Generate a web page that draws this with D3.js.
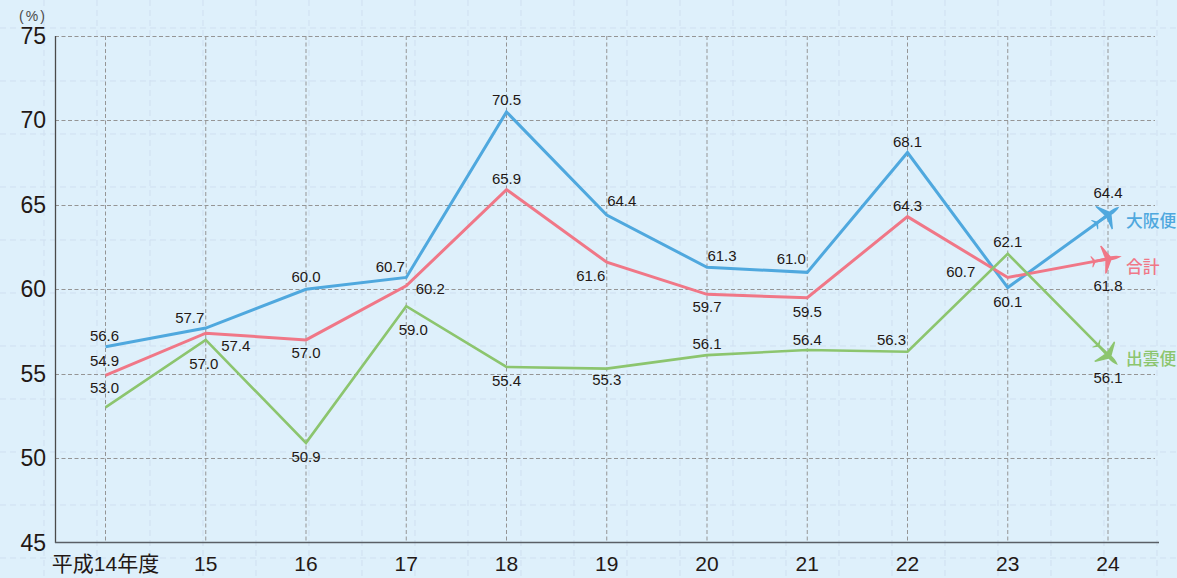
<!DOCTYPE html>
<html>
<head>
<meta charset="utf-8">
<script src="https://cdn.jsdelivr.net/npm/d3@7"></script>
<style>
  html, body { margin: 0; padding: 0; background: #def0fb; overflow: hidden; }
  svg { display: block; }
  text { font-family: "Liberation Sans", "Noto Sans CJK JP", sans-serif; fill: #231815; }
</style>
</head>
<body>
<div id="graphicContainer"></div>
<script>
const years = ["平成14年度", "15", "16", "17", "18", "19", "20", "21", "22", "23", "24"]
const yTicks = [45, 50, 55, 60, 65, 70, 75]

const osaka = [56.6, 57.7, 60.0, 60.7, 70.5, 64.4, 61.3, 61.0, 68.1, 60.1, 64.4]
const total = [54.9, 57.4, 57.0, 60.2, 65.9, 61.6, 59.7, 59.5, 64.3, 60.7, 61.8]
const izumo = [53.0, 57.0, 50.9, 59.0, 55.4, 55.3, 56.1, 56.4, 56.3, 62.1, 56.1]

// label nudges, px from the point
const osakaNudge = [[-1, -11], [-16, -10], [0, -12], [-16, -10], [0, -12], [15, -14], [15, -11], [-16, -13], [0, -10], [0, 14], [0, -22]]
const totalNudge = [[-1, -14], [30, 13], [0, 13], [24, 3], [0, -11], [-16, 14], [0, 13], [0, 14], [0, -11], [-47, -5], [0, 27]]
const izumoNudge = [[-1, -19], [-2, 24], [0, 14], [7, 24], [0, 14], [0, 11], [0, -11], [0, -10], [-16, -12], [0, -12], [0, 23]]

const width = 1177
const height = 578

const svg = d3.select("#graphicContainer").append("svg")
  .attr("width", width)
  .attr("height", height)

// faint background grid
const bgGrid = svg.append("g")
  .attr("stroke", "#cfdff0")
  .attr("stroke-width", 1)
  .attr("stroke-dasharray", "6,4")

d3.range(44, width, 53).forEach(px => {
  bgGrid.append("line").attr("x1", px).attr("x2", px).attr("y1", 0).attr("y2", height)
})

d3.range(28, height, 53).forEach(py => {
  bgGrid.append("line").attr("x1", 0).attr("x2", width).attr("y1", py).attr("y2", py)
})

const x = d3.scalePoint()
  .domain(years)
  .range([105.5, 1108])

const y = d3.scaleLinear()
  .domain([45, 75])
  .range([542.5, 36])

// main grid
const grid = svg.append("g")
  .attr("stroke", "#959595")
  .attr("stroke-width", 1)
  .attr("stroke-dasharray", "4,2.5")

yTicks.filter(d => d > 45).forEach(d => {
  grid.append("line")
    .attr("x1", 55).attr("x2", 1155)
    .attr("y1", Math.round(y(d)) + 0.5).attr("y2", Math.round(y(d)) + 0.5)
})

years.forEach(d => {
  grid.append("line")
    .attr("x1", x(d)).attr("x2", x(d))
    .attr("y1", 36).attr("y2", 542)
})

// axes
svg.append("line")
  .attr("x1", 55.5).attr("x2", 55.5)
  .attr("y1", 36).attr("y2", 543)
  .attr("stroke", "#4a4a4a")
  .attr("stroke-width", 1.3)

svg.append("line")
  .attr("x1", 55).attr("x2", 1159)
  .attr("y1", 542.5).attr("y2", 542.5)
  .attr("stroke", "#5a5f66")
  .attr("stroke-width", 1.6)

svg.selectAll(".ytick")
  .data(yTicks)
  .enter()
  .append("text")
  .attr("class", "ytick")
  .attr("x", 46)
  .attr("y", d => y(d) + 8)
  .attr("text-anchor", "end")
  .attr("font-size", 23)
  .text(d => d)

svg.selectAll(".xtick")
  .data(years)
  .enter()
  .append("text")
  .attr("class", "xtick")
  .attr("x", d => x(d))
  .attr("y", 570.5)
  .attr("text-anchor", "middle")
  .attr("font-size", 21)
  .text(d => d)

svg.append("text")
  .attr("x", 19)
  .attr("y", 21)
  .attr("font-size", 14)
  .style("fill", "#4a4a4a")
  .attr("textLength", 26)
  .attr("lengthAdjust", "spacing")
  .text("(%)")

const line = d3.line()
  .x((d, i) => x(years[i]))
  .y(d => y(d))

const planePath = "M14,0 C10,-1.8 6,-2.2 3,-2 L-4,-14 L-5.5,-14 L-3,-1.6 L-13,-1.2 L-16,-5.5 L-17,-5.5 L-15,0 L-17,5.5 L-16,5.5 L-13,1.2 L-3,1.6 L-5.5,14 L-4,14 L3,2 C6,2.2 10,1.8 14,0 Z"

const series = [
  { name: "大阪便", values: osaka, nudge: osakaNudge, color: "#4fa8de", width: 3, labelY: 227 },
  { name: "合計", values: total, nudge: totalNudge, color: "#f07787", width: 3, labelY: 273 },
  { name: "出雲便", values: izumo, nudge: izumoNudge, color: "#8cc56e", width: 2.6, labelY: 365 }
]

series.forEach(s => {

  svg.append("path")
    .datum(s.values)
    .attr("fill", "none")
    .attr("stroke", s.color)
    .attr("stroke-width", s.width)
    .attr("stroke-linejoin", "miter")
    .attr("d", line)

  // plane at the end of the line, pointing along the last segment
  const n = s.values.length - 1
  const px = x(years[n])
  const py = y(s.values[n])
  const angle = Math.atan2(py - y(s.values[n - 1]), px - x(years[n - 1])) * 180 / Math.PI

  svg.append("path")
    .attr("d", planePath)
    .attr("transform", `translate(${px},${py}) rotate(${angle})`)
    .attr("fill", s.color)

  svg.append("text")
    .attr("x", 1126)
    .attr("y", s.labelY)
    .attr("font-size", 16.8)
    .attr("font-weight", 500)
    .style("font-family", '"Noto Sans CJK JP", sans-serif')
    .style("fill", s.color)
    .text(s.name)

  svg.selectAll(null)
    .data(s.values)
    .enter()
    .append("text")
    .attr("x", (d, i) => x(years[i]) + s.nudge[i][0])
    .attr("y", (d, i) => y(d) + s.nudge[i][1] + 5)
    .attr("text-anchor", "middle")
    .attr("font-size", 15)
    .text(d => d.toFixed(1))

})
</script>
</body>
</html>
